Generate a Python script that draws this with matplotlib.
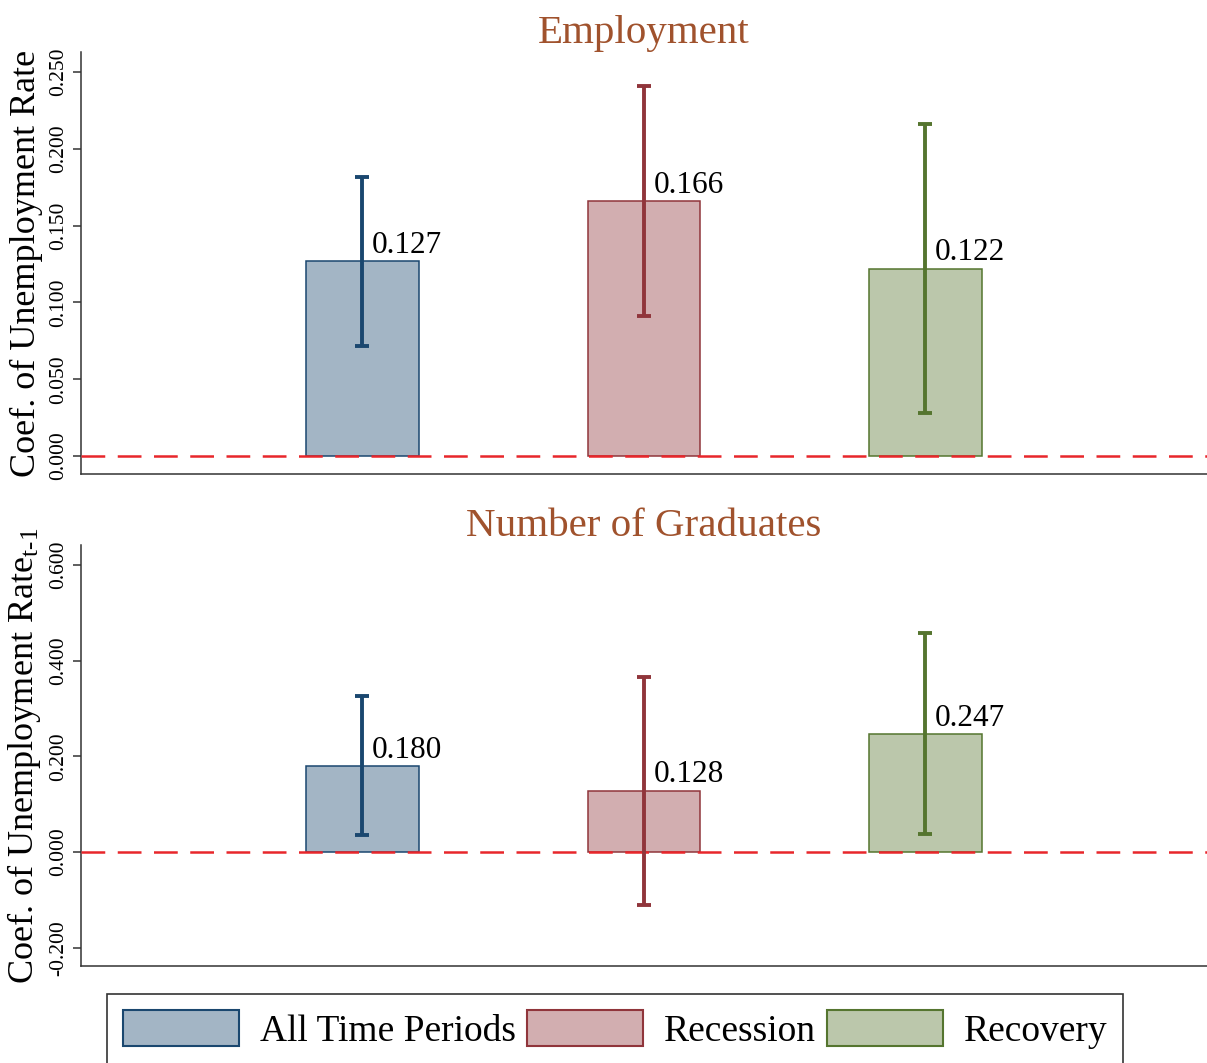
import numpy as np
import matplotlib
matplotlib.use("Agg")
import matplotlib.pyplot as plt
from matplotlib.patches import Patch

plt.rcParams['font.family'] = ['Liberation Serif', 'DejaVu Serif']
plt.rcParams['mathtext.fontset'] = 'custom'
plt.rcParams['mathtext.rm'] = 'Liberation Serif'
plt.rcParams['mathtext.it'] = 'Liberation Serif:italic'
plt.rcParams['axes.unicode_minus'] = False

# Data
groups = ["All Time Periods", "Recession", "Recovery"]
emp_coef = [0.127, 0.166, 0.122]
emp_lo = [0.072, 0.091, 0.028]
emp_hi = [0.182, 0.241, 0.216]
grad_coef = [0.180, 0.128, 0.247]
grad_lo = [0.035, -0.111, 0.038]
grad_hi = [0.326, 0.367, 0.457]

emp_ticks = [0.0, 0.05, 0.10, 0.15, 0.20, 0.25]
grad_ticks = [-0.2, 0.0, 0.2, 0.4, 0.6]

# Colours
line_cols = ["#1a476f", "#90353b", "#55752f"]
title_col = "#a0522d"
ref_col = "#e8262b"

xpos = np.arange(1, 4)

fig = plt.figure(figsize=(12.07, 10.63), dpi=100)
ax1 = fig.add_axes([0.0671, 0.554, 0.9329, 0.397])
ax2 = fig.add_axes([0.0671, 0.0913, 0.9329, 0.396])


def draw_panel(ax, coef, lo, hi, ticks, ylim, title, ylabel):
    for i in range(3):
        ax.bar(xpos[i], coef[i], width=0.4, color=line_cols[i], alpha=0.4,
               zorder=2)
        ax.bar(xpos[i], coef[i], width=0.4, facecolor='none',
               edgecolor=line_cols[i], linewidth=1.1, zorder=3)
        ax.errorbar(xpos[i], coef[i],
                    yerr=[[coef[i] - lo[i]], [hi[i] - coef[i]]],
                    fmt='none', ecolor=line_cols[i], elinewidth=2.8,
                    capsize=5, capthick=2.8, zorder=4)
        ax.annotate(f"{coef[i]:.3f}", (xpos[i], coef[i]),
                    xytext=(7, 1), textcoords='offset points',
                    ha='left', va='bottom', fontsize=22.5, zorder=5)
    ax.axhline(0, color=ref_col, linewidth=1.8,
               linestyle=(0, (9.5, 5)), zorder=3.5)
    ax.set_xlim(0, 4)
    ax.set_ylim(*ylim)
    ax.set_xticks([])
    ax.set_yticks(ticks)
    ax.set_yticklabels([f"{t:.3f}" for t in ticks], rotation=90,
                       va='center', fontsize=15.5)
    ax.tick_params(axis='y', direction='out', length=6, width=1.1,
                   color='#333333', pad=3)
    for s in ['top', 'right']:
        ax.spines[s].set_visible(False)
    for s in ['left', 'bottom']:
        ax.spines[s].set_color('#333333')
        ax.spines[s].set_linewidth(1.1)
    ax.set_title(title, color=title_col, fontsize=29.5, pad=6)
    ax.set_ylabel(ylabel, fontsize=26)
    ax.yaxis.set_label_coords(-0.034, 0.5)


draw_panel(ax1, emp_coef, emp_lo, emp_hi, emp_ticks, (-0.0117, 0.263),
           "Employment", "Coef. of Unemployment Rate")
draw_panel(ax2, grad_coef, grad_lo, grad_hi, grad_ticks, (-0.238, 0.642),
           "Number of Graduates", r"Coef. of Unemployment Rate$_{\mathrm{t\text{-}1}}$")

handles = [Patch(facecolor=(*matplotlib.colors.to_rgb(c), 0.4),
                 edgecolor=c, linewidth=1.5) for c in line_cols]
leg = fig.legend(handles, groups, loc='upper left',
                 bbox_to_anchor=(0.0886, 0.0649), ncol=3, fontsize=27,
                 frameon=True, fancybox=False, edgecolor='black',
                 handlelength=3.1, handleheight=1.1, handletextpad=0.55,
                 columnspacing=0.3, borderpad=0.42, borderaxespad=0)
leg.get_frame().set_linewidth(1.2)

fig.savefig("out.png", dpi=100)
